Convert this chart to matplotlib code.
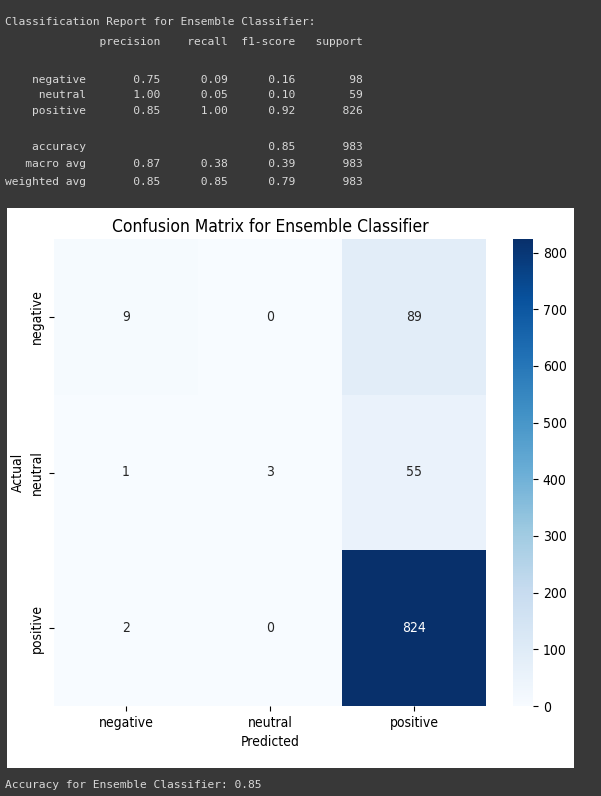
import numpy as np
import matplotlib
matplotlib.use("Agg")
import matplotlib.pyplot as plt
import matplotlib.patches as mpatches
import seaborn as sns

# ---- data ----
classes = ["negative", "neutral", "positive"]
precision = [0.75, 1.00, 0.85]
recall = [0.09, 0.05, 1.00]
f1 = [0.16, 0.10, 0.92]
support = [98, 59, 826]
accuracy = 0.85
total = 983
macro_avg = [0.87, 0.38, 0.39]
weighted_avg = [0.85, 0.85, 0.79]
conf_matrix = [[9, 0, 89],
               [1, 3, 55],
               [2, 0, 824]]
cbar_ticks = [0, 100, 200, 300, 400, 500, 600, 700, 800]

W, H = 601, 796
BG = "#383838"
FG = "#d8d8d8"

plt.rcParams["font.stretch"] = "condensed"

fig = plt.figure(figsize=(W / 100, H / 100), dpi=100, facecolor=BG)

def fx(px):
    return px / W

def fy(py):
    return 1 - py / H

# ---- classification report text ----
lines = ["Classification Report for Ensemble Classifier:"]
lines.append(f"{'':>12s}{'precision':>11s}{'recall':>10s}{'f1-score':>10s}{'support':>10s}")
lines.append("")
for c, p, r, f, s in zip(classes, precision, recall, f1, support):
    lines.append(f"{c:>12s}{p:>11.2f}{r:>10.2f}{f:>10.2f}{s:>10d}")
lines.append("")
lines.append(f"{'accuracy':>12s}{'':>11s}{'':>10s}{accuracy:>10.2f}{total:>10d}")
lines.append(f"{'macro avg':>12s}{macro_avg[0]:>11.2f}{macro_avg[1]:>10.2f}{macro_avg[2]:>10.2f}{total:>10d}")
lines.append(f"{'weighted avg':>12s}{weighted_avg[0]:>11.2f}{weighted_avg[1]:>10.2f}{weighted_avg[2]:>10.2f}{total:>10d}")

line_y = [22, 42, 61, 80, 95, 111, 129, 147, 164, 182]
for ln, yy in zip(lines, line_y):
    fig.text(fx(5), fy(yy), ln, family="DejaVu Sans Mono", fontsize=8.15,
             color=FG, va="center", ha="left", stretch="normal")

# ---- white panel ----
panel = mpatches.Rectangle((fx(7), fy(768)), fx(574) - fx(7), fy(208) - fy(768),
                           transform=fig.transFigure, facecolor="white",
                           edgecolor="none", zorder=-10)
fig.add_artist(panel)

# ---- heatmap ----
ax = fig.add_axes([fx(54), fy(706), fx(486) - fx(54), fy(239) - fy(706)])
cax = fig.add_axes([fx(513), fy(706), fx(533) - fx(513), fy(239) - fy(706)])
sns.heatmap(np.array(conf_matrix), annot=True, fmt="d", cmap="Blues", ax=ax, cbar_ax=cax,
            xticklabels=classes, yticklabels=classes, annot_kws={"fontsize": 10})
ax.set_title("Confusion Matrix for Ensemble Classifier", fontsize=12.5, pad=5)
ax.set_xlabel("Predicted", fontsize=10)
ax.set_ylabel("Actual", fontsize=10)
ax.tick_params(labelsize=10)
cax.set_yticks(cbar_ticks)
cax.tick_params(labelsize=10)

# ---- bottom text ----
fig.text(fx(5), fy(785), f"Accuracy for Ensemble Classifier: {accuracy:.2f}",
         family="DejaVu Sans Mono", fontsize=8.15, color=FG, va="center", ha="left",
         stretch="normal")

fig.savefig("out.png", dpi=100, facecolor=BG)
